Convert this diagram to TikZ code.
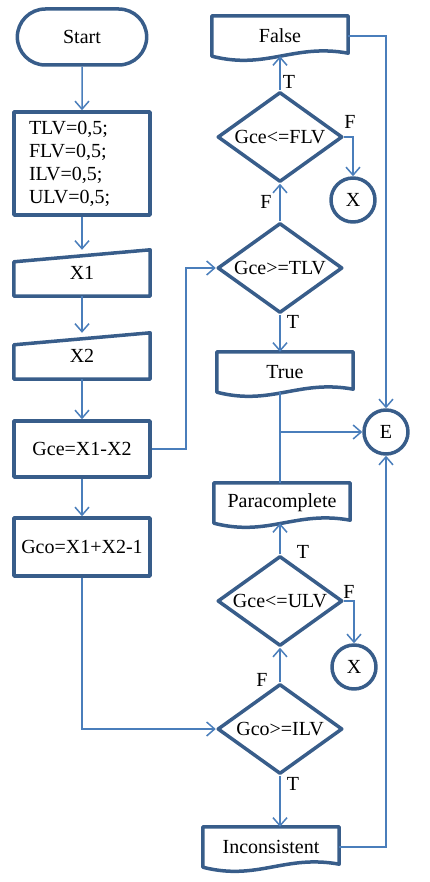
\documentclass[tikz,border=0pt]{standalone}
\usepackage{fontspec}
\setmainfont{Liberation Serif}
\usetikzlibrary{shapes,arrows.meta,calc}
\definecolor{shapeblue}{HTML}{385D8A}
\definecolor{lineblue}{HTML}{4A7EBB}
\tikzset{
	shapeline/.style={draw=shapeblue, line width=3.5pt, line join=round},
	proc/.style={shapeline, rectangle, minimum width=136pt, inner sep=0pt},
	term/.style={shapeline, rounded rectangle, minimum width=136pt, minimum height=56pt},
	decision/.style={shapeline, diamond, aspect=1.4, minimum width=125pt, minimum height=90pt, inner sep=0pt},
	conn/.style={shapeline, circle, minimum size=44pt, inner sep=0pt},
	plain/.style={rectangle, minimum width=136pt, minimum height=40pt, inner sep=0pt},
	flow/.style={draw=lineblue, line width=1.5pt, -{Straight Barb[length=8pt,width=14pt]}},
	link/.style={draw=lineblue, line width=1.5pt},
	lbl/.style={inner sep=0pt}
}
\newcommand{\inshape}[1]{\draw[shapeline] ([yshift=-12pt]#1.north west) -- (#1.north east) -- (#1.south east) -- (#1.south west) -- cycle;}
\newcommand{\docshape}[1]{\draw[shapeline] (#1.south west) -- (#1.north west) -- (#1.north east) -- ($(#1.south east)+(0,3pt)$)
	.. controls ($(#1.south west)!0.6!(#1.south east)+(0,13pt)$) and ($(#1.south west)!0.4!(#1.south east)+(0,-14pt)$) .. (#1.south west) -- cycle;}

\begin{document}
\begin{tikzpicture}[x=1pt,y=-1pt,font=\fontsize{20}{23}\selectfont]
	\useasboundingbox (0,0) rectangle (430,882);
	
	% left column
	\node[term] (start) at (82,37) {Start};
	\node[proc, minimum height=103pt, text width=106pt, inner xsep=15pt, align=left] (init) at (82,163.5) {TLV=0,5;\\FLV=0,5;\\ILV=0,5;\\ULV=0,5;};
	\node[plain, minimum height=46pt] (x1) at (82,273) {X1};
	\inshape{x1}
	\node[plain, minimum height=46pt] (x2) at (82,356) {X2};
	\inshape{x2}
	\node[proc, minimum height=56pt] (gce) at (82,449) {Gce=X1-X2};
	\node[proc, minimum height=58pt] (gco) at (82,547) {Gco=X1+X2-1};
	
	% right column
	\node[plain] (false) at (280,36) {False};
	\docshape{false}
	\node[decision] (fe) at (280,137) {Gce<=FLV};
	\node[conn] (xf) at (353,200) {X};
	\node[decision] (te) at (280,268) {Gce>=TLV};
	\node[plain] (true) at (285,372) {True};
	\docshape{true}
	\node[conn] (e) at (386,432) {E};
	\node[plain] (para) at (282,503) {Paracomplete};
	\docshape{para}
	\node[decision] (ue) at (280,601) {Gce<=ULV};
	\node[conn] (xu) at (354,667) {X};
	\node[decision] (ie) at (280,729) {Gco>=ILV};
	\node[plain] (inc) at (271,847) {Inconsistent};
	\docshape{inc}
	
	\node[lbl] (t1) at (289,82) {T};
	\node[lbl] (f1) at (350,122) {F};
	\node[lbl] (f2) at (266,202) {F};
	\node[lbl] (t2) at (293,322) {T};
	\node[lbl] (t3) at (303,552) {T};
	\node[lbl] (f3) at (349,592) {F};
	\node[lbl] (f4) at (262,680) {F};
	\node[lbl] (t4) at (293,784) {T};
	
	% connectors
	\draw[flow] (start) -- (init);
	\draw[flow] (init) -- (x1);
	\draw[flow] (x1) -- (x2);
	\draw[flow] (x2) -- (gce);
	\draw[flow] (gce) -- (gco);
	\draw[flow] (gce.east) -- ++(34,0) |- (te.west);
	\draw[flow] (gco.south) |- (ie.west);
	\draw[flow] (te) -- (fe);
	\draw[flow] (fe.north) -- (fe.north |- false.south);
	\draw[flow] (fe.east) -| (xf.north);
	\draw[flow] (te.south) -- (te.south |- true.north);
	\draw[link] (te.south |- true.south) -- (te.south |- para.north);
	\draw[flow] (te.south |- e.west) -- (e.west);
	\draw[flow] (ue.north) -- (ue.north |- para.south);
	\draw[flow] (ue.east) -| (xu.north);
	\draw[flow] (ie) -- (ue);
	\draw[flow] (ie.south) -- (ie.south |- inc.north);
	\draw[flow] (false.east) -| (e.north);
	\draw[flow] (inc.east) -| (e.south);
	
\end{tikzpicture}
\end{document}
